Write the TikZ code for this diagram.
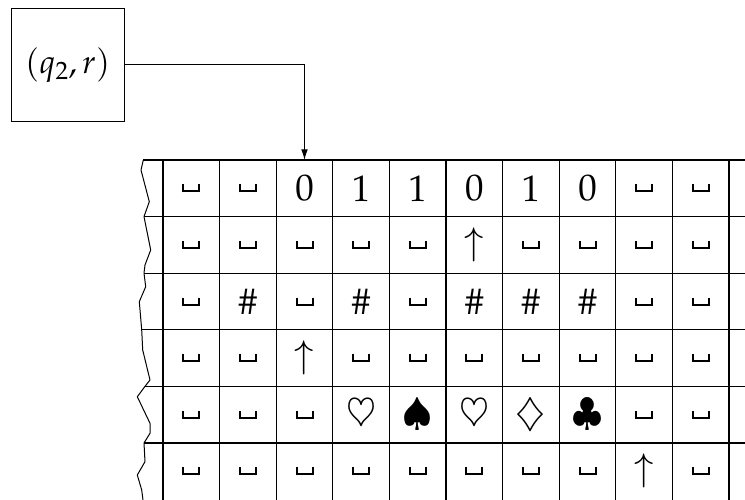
\documentclass[tikz,border=0pt]{standalone}
\usepackage[T1]{fontenc}
\usepackage{mathpazo}
\usetikzlibrary{arrows.meta}
% visible space, built from rules as LaTeX's OT1 \textvisiblespace is
\newcommand{\vs}{\mbox{\vrule width 2pt height 8pt\vrule width 14pt height 2pt\vrule width 2pt height 8pt}}
\begin{document}
\begin{tikzpicture}[x=1pt,y=-1pt,line width=1.2pt,
  every node/.style={font=\fontsize{37}{44}\selectfont},
  cell/.style={minimum size=56.6pt,inner sep=0pt,outer sep=0pt},
  statebox/.style={draw,line width=1pt,minimum width=113.3pt,minimum height=113.4pt,inner sep=0pt,outer sep=0pt,font=\fontsize{33}{40}\selectfont},
  headarrow/.style={line width=1pt,-{Latex[length=10.7pt,width=6.7pt]}}]
\useasboundingbox (0,0) rectangle (745,500);
\clip (0,0) rectangle (745,500);
\node[statebox] (st) at (67.7,65) {$(q_2,r)$};
\foreach [count=\r] \rowlist in {%
  {\vs,\vs,0,1,1,0,1,0,\vs,\vs},%
  {\vs,\vs,\vs,\vs,\vs,$\uparrow$,\vs,\vs,\vs,\vs},%
  {\vs,\#,\vs,\#,\vs,\#,\#,\#,\vs,\vs},%
  {\vs,\vs,$\uparrow$,\vs,\vs,\vs,\vs,\vs,\vs,\vs},%
  {\vs,\vs,\vs,$\heartsuit$,$\spadesuit$,$\heartsuit$,$\diamondsuit$,$\clubsuit$,\vs,\vs},%
  {\vs,\vs,\vs,\vs,\vs,\vs,\vs,\vs,$\uparrow$,\vs}}{%
  \foreach [count=\c] \s in \rowlist {%
    \node[cell] (c-\r-\c) at ({163+56.6*(\c-0.5)},{160+56.6*(\r-0.5)}) {\s};
  }%
}
% vertical grid lines
\foreach \i in {0,...,10} \draw ({163+56.6*\i},160) -- ({163+56.6*\i},500);
% horizontal grid lines
\foreach \j/\xs in {0/143.3,1/144,2/144,3/141.7,4/145,5/144}
  \draw (\xs,{160+56.6*\j}) -- (745,{160+56.6*\j});
% torn left edge
\draw[line width=1pt,line join=round] (143.3,160) -- (141,170) -- (149.3,201.7) -- (144,216.6) -- (150.7,250) -- (145,265) -- (144,273.2) -- (145.7,286.7) -- (139.3,301.7) -- (141.7,329.8) -- (142.7,350) -- (150,380) -- (145,386.4) -- (137.3,396.7) -- (150,423.3) -- (150,433.3) -- (144,443) -- (145,461.7) -- (137.3,475) -- (141.7,490) -- (143,500);
\draw[headarrow] (st.east) -| (c-1-3.north);
\end{tikzpicture}
\end{document}
